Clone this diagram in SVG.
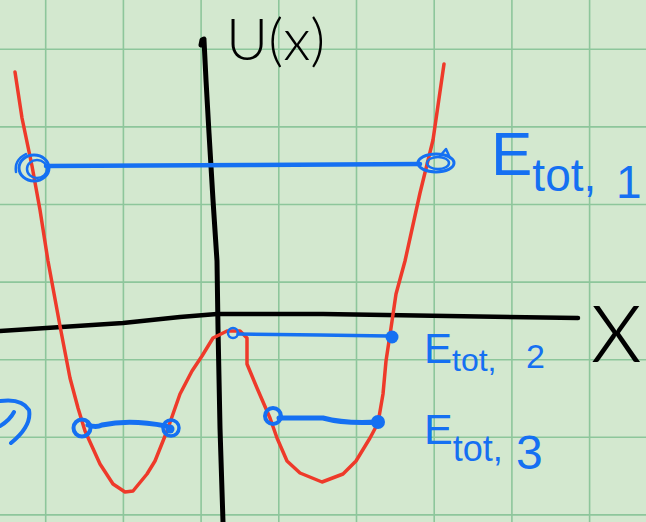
<svg xmlns="http://www.w3.org/2000/svg" width="646" height="522" viewBox="0 0 646 522">
<style>
.grid line{stroke:#8dc69b;stroke-width:1.6}
.red{fill:none;stroke:#ee3a2a;stroke-width:3.5;stroke-linejoin:round;stroke-linecap:round}
.axis{fill:none;stroke:#000;stroke-linejoin:round;stroke-linecap:round}
.blue{fill:none;stroke:#1570f2;stroke-linecap:round;stroke-linejoin:round}
.bfill{fill:#1570f2}
.lbl{fill:#1570f2;font-family:"Liberation Sans",Arial,sans-serif}
.hand{fill:#000;font-family:"Lato","Liberation Sans",sans-serif;font-weight:300}
</style>
<rect width="646" height="522" fill="#d3e8cf"/>
<g class="grid">
<line x1="45.7" y1="0" x2="45.7" y2="522"/>
<line x1="123.4" y1="0" x2="123.4" y2="522"/>
<line x1="201.1" y1="0" x2="201.1" y2="522"/>
<line x1="278.8" y1="0" x2="278.8" y2="522"/>
<line x1="356.5" y1="0" x2="356.5" y2="522"/>
<line x1="434.2" y1="0" x2="434.2" y2="522"/>
<line x1="511.9" y1="0" x2="511.9" y2="522"/>
<line x1="589.6" y1="0" x2="589.6" y2="522"/>
<line x1="0" y1="49.3" x2="646" y2="49.3"/>
<line x1="0" y1="126.9" x2="646" y2="126.9"/>
<line x1="0" y1="204.5" x2="646" y2="204.5"/>
<line x1="0" y1="282.1" x2="646" y2="282.1"/>
<line x1="0" y1="359.7" x2="646" y2="359.7"/>
<line x1="0" y1="437.3" x2="646" y2="437.3"/>
<line x1="0" y1="514.9" x2="646" y2="514.9"/>
</g>
<g id="axes">
<path class="axis" stroke-width="5" d="M201,45 L202,40 L204,39 M204,40 L206,80 L209,133 L213,200 L217,261 L218,328 L220,428 L223,522"/>
<path class="axis" stroke-width="4.5" d="M0,331 L123,323 L180,317 L217,314 L323,314 L578,318"/>
<text class="hand" x="226" y="60" font-size="58">U(x)</text>
<text class="hand" x="590" y="362" font-size="112">x</text>
</g>
<g id="potential">
<path class="red" d="M15,72 L22,118 L32,166 L40,210 L48,261 L60,326 L70,378 L78,408 L85,431 L100,464 L113,484 L125,492 L133,491 L147,474 L155,461 L167,431 L180,394 L192,371 L202,356 L213,338 L227,331 L240,331 L247,338 L247,364 L257,388 L270,418 L277,438 L287,461 L300,473 L322,482 L343,474 L356,461 L370,438 L378,423 L383,394 L386,361 L391,328 L396,294 L405,261 L420,193 L433,140 L444,64"/>
</g>
<g id="connectors">
<g id="E1-level">
<path class="blue" stroke-width="4.5" d="M46,166 L250,165 L420,164"/>
<ellipse class="blue" stroke-width="3" cx="34" cy="168" rx="15" ry="13"/>
<ellipse class="blue" stroke-width="2.5" cx="37" cy="169" rx="10" ry="9"/>
<path class="blue" stroke-width="2.5" d="M16,172 Q14,160 26,154"/>
<ellipse class="blue" stroke-width="3" cx="436" cy="163" rx="18" ry="9"/>
<ellipse class="blue" stroke-width="2.5" cx="438" cy="163" rx="11" ry="6"/>
<path class="blue" stroke-width="2.5" d="M440,156 L446,149 L450,158"/>
</g>
<g id="E2-level">
<path class="blue" stroke-width="3.5" d="M238,334 L320,335 L388,336"/>
<circle class="blue" stroke-width="2.5" cx="233" cy="333" r="5"/>
<circle class="bfill" cx="392" cy="337" r="6.5"/>
</g>
<g id="E3-left">
<path class="blue" stroke-width="5" d="M88,425 Q96,428 102,425 Q130,419 166,426"/>
<circle class="blue" stroke-width="4" cx="82" cy="428" r="8.5"/>
<circle class="blue" stroke-width="3.5" cx="171" cy="428" r="8"/>
<circle class="bfill" cx="170" cy="429" r="4.5"/>
</g>
<g id="E3-right">
<path class="blue" stroke-width="5" d="M279,418 L323,418 Q345,424 378,422"/>
<circle class="blue" stroke-width="4" cx="273" cy="416" r="8"/>
<circle class="bfill" cx="378" cy="422" r="7"/>
</g>
<path class="blue" stroke-width="4" d="M0,401 Q22,398 29,410 Q32,426 11,443 M0,426 Q10,420 14,412"/>
</g>
<g id="labels">
<text class="lbl" x="491" y="175" font-size="62">E<tspan font-size="46" dy="16">tot,</tspan></text>
<text class="lbl" x="616" y="198" font-size="46">1</text>
<text class="lbl" x="424" y="363" font-size="42">E<tspan font-size="32" dy="8">tot,</tspan></text>
<text class="lbl" x="526" y="368" font-size="34">2</text>
<text class="lbl" x="424" y="444" font-size="43">E<tspan font-size="36" dy="17">tot,</tspan></text>
<text class="lbl" x="516" y="469" font-size="48">3</text>
</g>
</svg>
